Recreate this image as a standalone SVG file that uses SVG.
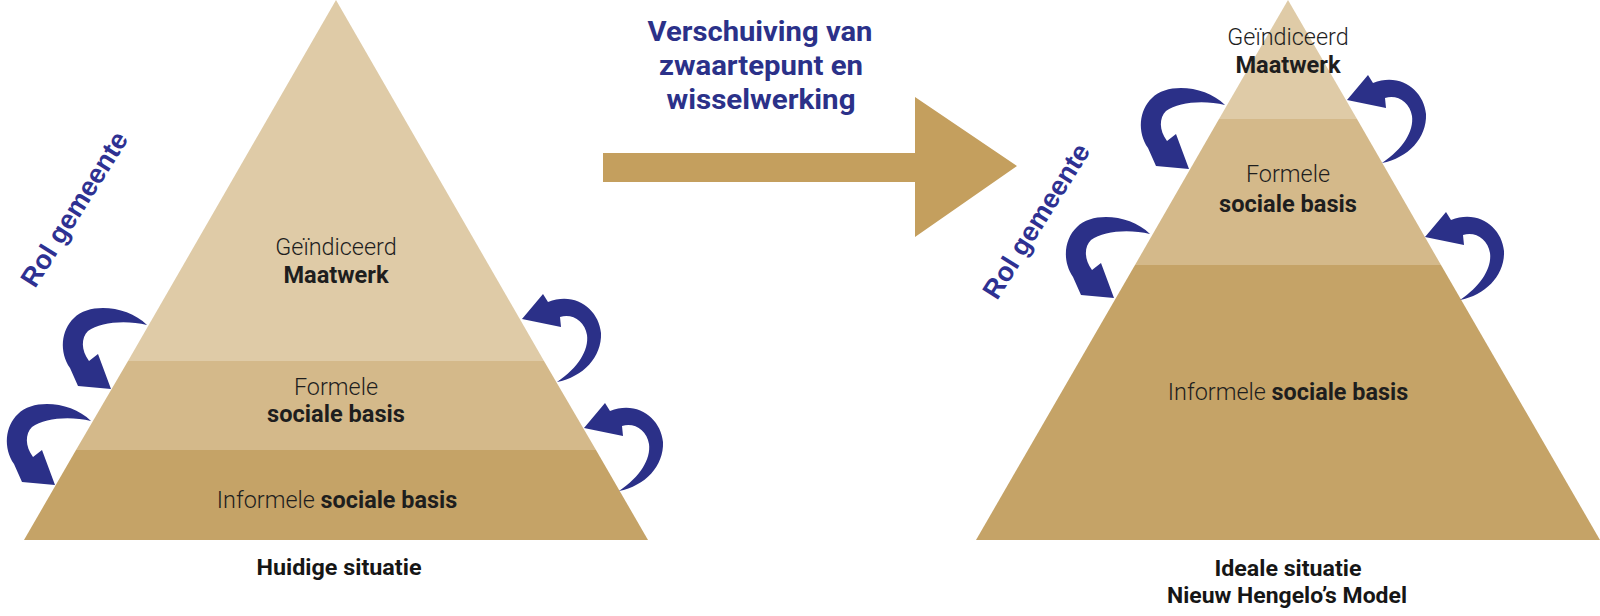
<svg xmlns="http://www.w3.org/2000/svg" width="1600" height="616" viewBox="0 0 1600 616">
<defs>
<style>
.b1{fill:#dfcba7}
.b2{fill:#d4b98a}
.b3{fill:#c5a367}
.arw{fill:#2b3088}
.lt{font-family:Roboto,"Noto Sans",sans-serif;font-weight:300;font-size:23.4px;fill:#1e1e1e;text-anchor:middle}
.bd{font-family:Roboto,"Noto Sans",sans-serif;font-weight:700;font-size:23.6px;fill:#1e1e1e;text-anchor:middle}
.bdi{font-weight:700}
.cap{font-family:Roboto,"Liberation Sans",sans-serif;font-weight:700;font-size:22px;fill:#161616;text-anchor:middle}
.ttl{font-family:Roboto,"Liberation Sans",sans-serif;font-weight:700;font-size:28.5px;fill:#2b3189;text-anchor:middle}
.rol{font-family:"Liberation Sans",Arial,sans-serif;font-weight:700;font-size:27px;fill:#2e3192;text-anchor:middle}
</style>
<path id="ca" d="M147,325 C128,306 90,302 74,318 C61,330 59,352 70,368 L78,386 L111,389 L98,354 L89,361 C81,350 81,338 88,331 C100,322 126,320 147,325 Z"/>
<path id="cb" d="M522,319 L543,294 L548,302 C576,291 599,310 601,333 C602,357 583,377 557,382 C578,368 589,350 587,335 C585,321 572,313 560,317 L561,327 Z"/>
</defs>
<rect width="1600" height="616" fill="#ffffff"/>

<g id="pyramid-current">
<polygon class="b1" points="336,0 128,361 544,361"/>
<polygon class="b2" points="128,361 544,361 596,450 76,450"/>
<polygon class="b3" points="76,450 596,450 648,540 24,540"/>
</g>

<g id="pyramid-ideal">
<polygon class="b1" points="1288,0 1219,119 1357,119"/>
<polygon class="b2" points="1219,119 1357,119 1441,265 1135,265"/>
<polygon class="b3" points="1135,265 1441,265 1600,540 976,540"/>
</g>

<g id="shift-arrow">
<polygon fill="#c49f5e" points="603,153 915,153 915,97 1017,166 915,237 915,182 603,182"/>
</g>

<g id="connectors">
<use href="#ca" class="arw"/>
<use href="#ca" class="arw" transform="translate(-56,96)"/>
<use href="#cb" class="arw"/>
<use href="#cb" class="arw" transform="translate(62,109)"/>
<use href="#ca" class="arw" transform="translate(1078,-220)"/>
<use href="#ca" class="arw" transform="translate(1003,-91)"/>
<use href="#cb" class="arw" transform="translate(825,-219)"/>
<use href="#cb" class="arw" transform="translate(903,-82)"/>
</g>

<g id="label-title">
<text class="ttl" x="760" y="41" textLength="225" lengthAdjust="spacingAndGlyphs">Verschuiving van</text>
<text class="ttl" x="761" y="75" textLength="204" lengthAdjust="spacingAndGlyphs">zwaartepunt en</text>
<text class="ttl" x="761" y="109" textLength="189" lengthAdjust="spacingAndGlyphs">wisselwerking</text>
</g>

<g id="label-rol-left">
<text class="rol" transform="translate(82,214) rotate(-58)">Rol gemeente</text>
</g>
<g id="label-rol-right">
<text class="rol" transform="translate(1044,226) rotate(-58)">Rol gemeente</text>
</g>

<g id="node-maatwerk-current">
<text class="lt" x="336" y="255">Geïndiceerd</text>
<text class="bd" x="336" y="283">Maatwerk</text>
</g>
<g id="node-formeel-current">
<text class="lt" x="336" y="395">Formele</text>
<text class="bd" x="336" y="422">sociale basis</text>
</g>
<g id="node-informeel-current">
<text class="lt" x="337" y="508">Informele <tspan class="bdi">sociale basis</tspan></text>
</g>
<g id="caption-current">
<text class="cap" x="339" y="575" textLength="165" lengthAdjust="spacingAndGlyphs">Huidige situatie</text>
</g>

<g id="node-maatwerk-ideal">
<text class="lt" x="1288" y="45">Geïndiceerd</text>
<text class="bd" x="1288" y="73">Maatwerk</text>
</g>
<g id="node-formeel-ideal">
<text class="lt" x="1288" y="182">Formele</text>
<text class="bd" x="1288" y="212">sociale basis</text>
</g>
<g id="node-informeel-ideal">
<text class="lt" x="1288" y="400">Informele <tspan class="bdi">sociale basis</tspan></text>
</g>
<g id="caption-ideal">
<text class="cap" x="1288" y="576" textLength="147" lengthAdjust="spacingAndGlyphs">Ideale situatie</text>
<text class="cap" x="1287" y="603" textLength="240" lengthAdjust="spacingAndGlyphs">Nieuw Hengelo’s Model</text>
</g>
</svg>
